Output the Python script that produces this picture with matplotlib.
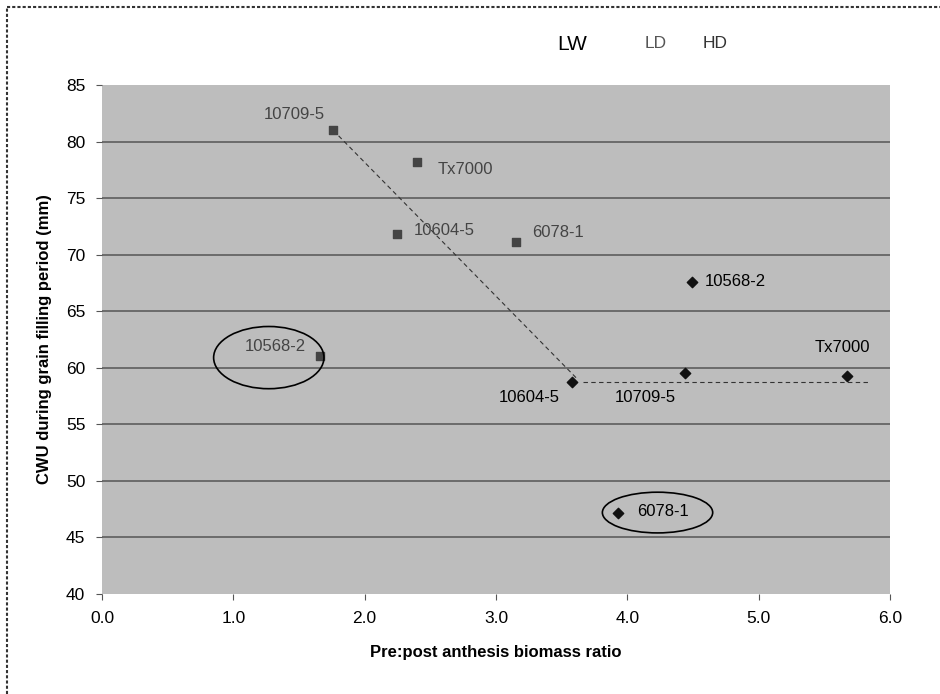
import matplotlib
matplotlib.use("Agg")
import matplotlib.pyplot as plt
from matplotlib.patches import Ellipse
from matplotlib.lines import Line2D

plt.rcParams['font.family'] = ['Liberation Sans', 'DejaVu Sans']

# LD genotypes (grey squares)
ld_names = ["10709-5", "Tx7000", "10604-5", "6078-1", "10568-2"]
ld_x = [1.76, 2.40, 2.25, 3.15, 1.66]
ld_y = [81.0, 78.2, 71.8, 71.1, 61.0]

# HD genotypes (black diamonds)
hd_names = ["10568-2", "10604-5", "10709-5", "Tx7000", "6078-1"]
hd_x = [4.49, 3.58, 4.44, 5.67, 3.93]
hd_y = [67.6, 58.7, 59.5, 59.3, 47.2]

# broken-stick trend line
trend1_x = [1.76, 3.62]
trend1_y = [81.0, 59.0]
trend2_x = [3.66, 5.83]
trend2_y = [58.7, 58.7]

xticks = [0.0, 1.0, 2.0, 3.0, 4.0, 5.0, 6.0]
yticks = [40, 45, 50, 55, 60, 65, 70, 75, 80, 85]

fig = plt.figure(figsize=(9.4, 6.94), dpi=100)
ax = fig.add_axes([0.1085, 0.1441, 0.8383, 0.7334])
ax.set_facecolor("#bdbdbd")

for y in yticks[1:-1]:
    ax.axhline(y, color="#555555", lw=1.1, zorder=1)

ax.plot(trend1_x, trend1_y, ls=(0, (4, 3)), color="#333333", lw=0.8, zorder=2)
ax.plot(trend2_x, trend2_y, ls=(0, (4, 3)), color="#333333", lw=0.8, zorder=2)

ax.scatter(ld_x, ld_y, marker="s", s=30, color="#444444", zorder=3)
ax.scatter(hd_x, hd_y, marker="D", s=28, color="#111111", zorder=3)

ld_off = [(-8, 16, "right"), (20, -8, "left"), (16, 4, "left"), (16, 10, "left"), (-14, 10, "right")]
for n, x, y, (dx, dy, ha) in zip(ld_names, ld_x, ld_y, ld_off):
    ax.annotate(n, (x, y), xytext=(dx, dy), textcoords="offset pixels",
                ha=ha, va="center", fontsize=12, color="#444444", zorder=4)

hd_off = [(13, 0, "left"), (-12, -15, "right"), (-70, -24, "left"), (23, 28, "right"), (19, 1, "left")]
for n, x, y, (dx, dy, ha) in zip(hd_names, hd_x, hd_y, hd_off):
    ax.annotate(n, (x, y), xytext=(dx, dy), textcoords="offset pixels",
                ha=ha, va="center", fontsize=12, color="black", zorder=4)

ax.add_patch(Ellipse((1.27, 60.9), 0.84, 5.5, fill=False, ec="black", lw=1.2, zorder=4))
ax.add_patch(Ellipse((4.23, 47.2), 0.84, 3.6, fill=False, ec="black", lw=1.2, zorder=4))

ax.set_xlim(0, 6)
ax.set_ylim(40, 85)
ax.set_xticks(xticks)
ax.set_xticklabels([f"{t:.1f}" for t in xticks])
ax.set_yticks(yticks)
ax.tick_params(axis="both", labelsize=12.5, length=4, color="#555555", pad=8)
for s in ax.spines.values():
    s.set_visible(False)

ax.set_xlabel("Pre:post anthesis biomass ratio", fontsize=12, fontweight="bold", labelpad=14)
ax.set_ylabel("CWU during grain filling period (mm)", fontsize=12, fontweight="bold", labelpad=10)

fig.text(572 / 940, 1 - 44 / 694, "LW", fontsize=15, ha="center", va="center")
fig.text(656 / 940, 1 - 43 / 694, "LD", fontsize=12.5, ha="center", va="center", color="#555555")
fig.text(715 / 940, 1 - 43 / 694, "HD", fontsize=12.5, ha="center", va="center", color="#333333")

# dotted frame (top and left)
fig.add_artist(Line2D([7 / 940, 1.0], [1 - 7 / 694, 1 - 7 / 694], transform=fig.transFigure,
                      color="#333333", lw=1.5, ls=(0, (1.5, 1))))
fig.add_artist(Line2D([7 / 940, 7 / 940], [0.0, 1 - 7 / 694], transform=fig.transFigure,
                      color="#333333", lw=1.5, ls=(0, (1.5, 1))))

fig.savefig("out.png", dpi=100)
